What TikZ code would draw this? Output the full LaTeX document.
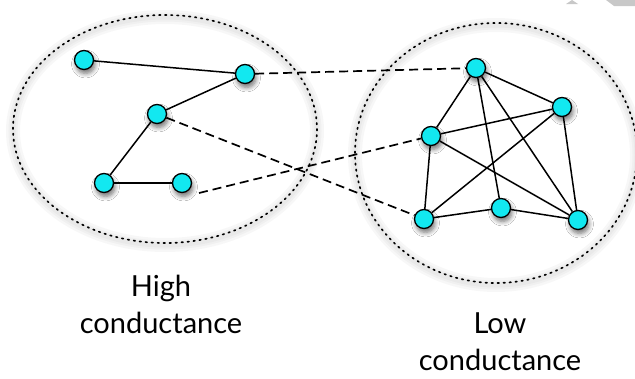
\documentclass[tikz,border=0pt]{standalone}
\usepackage{fontspec}
\setmainfont{Lato}
\usetikzlibrary{shadows.blur}

\definecolor{nodecyan}{RGB}{18,232,240}
\definecolor{curlgray}{RGB}{200,200,200}

\tikzset{
  vertex/.style={circle, draw=black, line width=1.3pt, fill=nodecyan,
    minimum size=19pt, inner sep=0pt,
    blur shadow={shadow xshift=1.5pt, shadow yshift=-4pt,
      shadow blur radius=4.5pt, shadow blur steps=6, shadow opacity=55}},
  edge/.style={line width=1.5pt, black},
  link/.style={line width=1.7pt, black, dash pattern=on 9pt off 5pt},
  cluster/.style={line width=1.7pt, black, dash pattern=on 1.5pt off 4.5pt, line cap=round},
  halo/.style={line width=#1, black!80, opacity=0.035},
  caption/.style={font=\fontsize{29}{37}\selectfont, align=center, inner sep=0pt}
}

\begin{document}
\begin{tikzpicture}[x=1pt, y=-1pt]
  \useasboundingbox (0,0) rectangle (635,378);
  \fill[white] (0,0) rectangle (635,378);

  % small grey page-curl marks in the top right corner
  \fill[curlgray] (566,4) -- (572,0) -- (578,4) -- cycle;
  \fill[curlgray] (606,0) -- (635,0) -- (635,6) -- (614,6) -- cycle;

  % soft halos round the two clusters
  \foreach \w in {14pt,9pt,5pt}{
    \draw[halo=\w] (165,131) ellipse [x radius=152, y radius=114];
    \draw[halo=\w] (496,155) ellipse [x radius=141, y radius=130];
  }

  % cluster outlines
  \draw[cluster] (165,129) ellipse [x radius=152, y radius=114];
  \draw[cluster] (496,153) ellipse [x radius=141, y radius=130];

  % vertices
  \node[vertex] (A) at (84,60)  {};
  \node[vertex] (B) at (245,74) {};
  \node[vertex] (C) at (157,114) {};
  \node[vertex] (D) at (104,183) {};
  \node[vertex] (E) at (182,183) {};

  \node[vertex] (F) at (476,68)  {};
  \node[vertex] (G) at (562,107) {};
  \node[vertex] (H) at (431,136) {};
  \node[vertex] (I) at (424,219) {};
  \node[vertex] (J) at (501,208) {};
  \node[vertex] (K) at (578,220) {};

  \coordinate (Eout) at (199,193);

  % edges inside the clusters
  \draw[edge] (A) -- (B);
  \draw[edge] (B) -- (C);
  \draw[edge] (C) -- (D);
  \draw[edge] (D) -- (E);

  \draw[edge] (F) -- (G);
  \draw[edge] (F) -- (H);
  \draw[edge] (F) -- (J);
  \draw[edge] (F) -- (K);
  \draw[edge] (G) -- (H);
  \draw[edge] (G) -- (I);
  \draw[edge] (G) -- (K);
  \draw[edge] (H) -- (I);
  \draw[edge] (H) -- (K);
  \draw[edge] (I) -- (J);
  \draw[edge] (J) -- (K);

  % links between the clusters
  \draw[link] (B) -- (F);
  \draw[link] (C) -- (I);
  \draw[link] (Eout) -- (H);

  % captions (base anchor sits on the last line)
  \node[caption, anchor=base] (hi) at (161,333) {High\\conductance};
  \node[caption, anchor=base] (lo) at (500,370) {Low\\conductance};
\end{tikzpicture}
\end{document}
